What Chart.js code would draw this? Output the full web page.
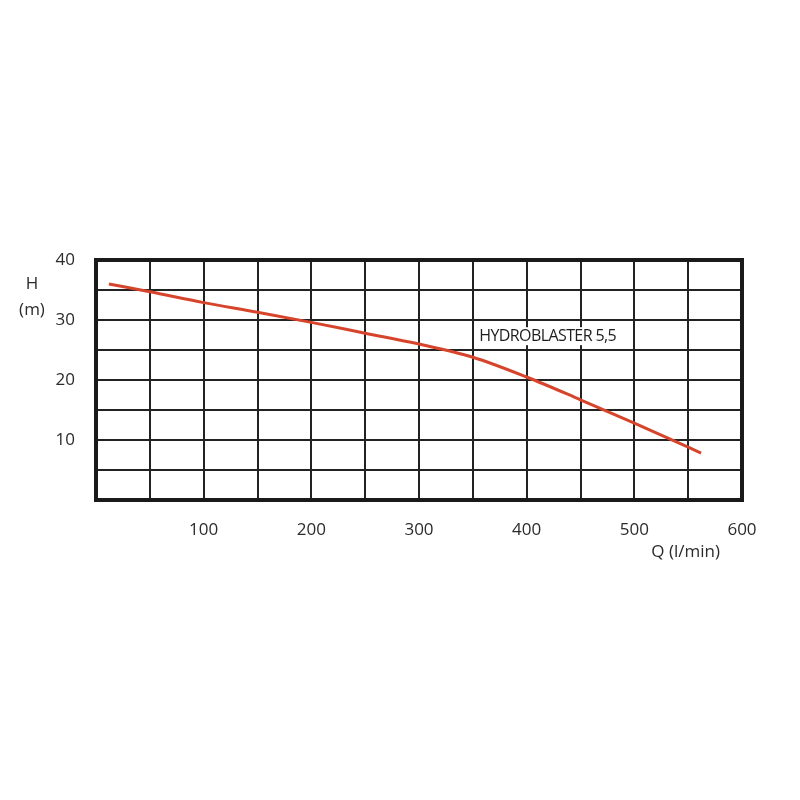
<!DOCTYPE html>
<html>
<head>
<meta charset="utf-8">
<script src="https://cdn.jsdelivr.net/npm/chart.js@4"></script>
<style>
  html, body { margin: 0; padding: 0; background: #fff; }
  #curve { display: block; }
</style>
</head>
<body>
<canvas id="curve" width="800" height="800"></canvas>
<script>
// flow Q (l/min) and head H (m)
var flow = [12, 50, 100, 150, 200, 250, 300, 350, 400, 450, 500, 550, 562];
var head = [36, 34.7, 32.9, 31.3, 29.6, 27.8, 26, 23.8, 20.5, 16.7, 12.8, 8.8, 7.8];
var xLabels = [100, 200, 300, 400, 500, 600];
var yLabels = [10, 20, 30, 40];
var modelName = 'HYDROBLASTER 5,5';

var points = flow.map(function (q, i) { return { x: q, y: head[i] }; });

var frameAndText = {
    id: 'frameAndText',
    afterDatasetsDraw: function (chart) {
        var ctx = chart.ctx;
        var a = chart.chartArea;
        var sx = chart.scales.x, sy = chart.scales.y;
        ctx.save();
        // model label with white box behind
        ctx.font = '16px "Open Sans"';
        ctx.textBaseline = 'middle';
        ctx.textAlign = 'left';
        if ('letterSpacing' in ctx) ctx.letterSpacing = '-0.6px';
        var tx = sx.getPixelForValue(356);
        var ty = sy.getPixelForValue(27.3);
        var w = ctx.measureText(modelName).width;
        ctx.fillStyle = '#fff';
        ctx.fillRect(tx - 3, ty - 9, w + 6, 18);
        ctx.fillStyle = '#1e1e1e';
        ctx.fillText(modelName, tx, ty);
        if ('letterSpacing' in ctx) ctx.letterSpacing = '0px';
        // thick frame
        ctx.lineWidth = 4;
        ctx.strokeStyle = '#1a1a1a';
        ctx.strokeRect(a.left, a.top, a.right - a.left, a.bottom - a.top);
        // axis captions
        ctx.fillStyle = '#2b2b2b';
        ctx.font = '17px "Open Sans"';
        ctx.textAlign = 'center';
        ctx.fillText('H', 32, 284);
        ctx.fillText('(m)', 32, 310);
        ctx.textAlign = 'right';
        ctx.fillText('Q (l/min)', 720, 552);
        ctx.restore();
    }
};

new Chart(document.getElementById('curve').getContext('2d'), {
    type: 'scatter',
    data: {
        datasets: [{
            label: modelName,
            data: points,
            showLine: true,
            borderColor: '#d6452b',
            borderWidth: 3,
            pointRadius: 0,
            cubicInterpolationMode: 'monotone',
            fill: false
        }]
    },
    options: {
        responsive: false,
        animation: false,
        layout: { padding: { left: 0, top: 260, right: 58, bottom: 0 } },
        plugins: { legend: { display: false }, tooltip: { enabled: false } },
        scales: {
            x: {
                type: 'linear',
                min: 0,
                max: 600,
                afterFit: function (s) { s.height = 300; },
                grid: { color: '#222', lineWidth: 2, drawTicks: false },
                border: { display: false },
                ticks: {
                    stepSize: 50,
                    padding: 20,
                    color: '#2b2b2b',
                    font: { family: 'Open Sans', size: 17 },
                    maxRotation: 0,
                    callback: function (v) { return xLabels.indexOf(v) >= 0 ? String(v) : ''; }
                }
            },
            y: {
                min: 0,
                max: 40,
                afterFit: function (s) { s.width = 96; },
                grid: { color: '#222', lineWidth: 2, drawTicks: false },
                border: { display: false },
                ticks: {
                    stepSize: 5,
                    padding: 21,
                    color: '#2b2b2b',
                    font: { family: 'Open Sans', size: 17 },
                    callback: function (v) { return yLabels.indexOf(v) >= 0 ? String(v) : ''; }
                }
            }
        }
    },
    plugins: [frameAndText]
});
</script>
</body>
</html>
